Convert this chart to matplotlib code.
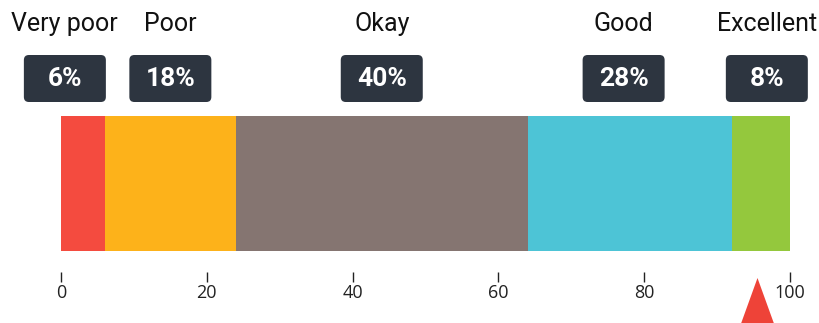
import matplotlib.pyplot as plt
from matplotlib.patches import FancyBboxPatch
import numpy as np

categories = ["Very poor", "Poor", "Okay", "Good", "Excellent"]
shares = [6, 18, 40, 28, 8]
colors = ["#f44b3f", "#fdb21a", "#857571", "#4dc4d6", "#94c83d"]
tick_values = [0, 20, 40, 60, 80, 100]
marker_value = 95.5

BOX_FACE = "#2d3540"
DPI = 100
# horizontal nudges (pixels) so neighbouring labels don't collide
label_shift = [-18, 0, 0, -6, 6]

fig = plt.figure(figsize=(8.2, 3.23), dpi=DPI)
ax = fig.add_axes([61 / 820, 72 / 323, 729 / 820, 135 / 323])

starts = np.concatenate([[0], np.cumsum(shares)[:-1]])
ax.barh(0.5, shares, left=starts, height=1.0, color=colors, linewidth=0)

ax.set_xlim(0, 100)
ax.set_ylim(0, 1)
ax.set_yticks([])
for side in ["top", "left", "right"]:
    ax.spines[side].set_visible(False)
ax.spines["bottom"].set_position(("outward", 15))
ax.spines["bottom"].set_visible(False)
ax.set_xticks(tick_values)
ax.tick_params(axis="x", length=7.5, width=1.0, color="#222222", pad=1,
               labelsize=13, labelcolor="#222222")
for lab in ax.get_xticklabels():
    lab.set_family("Open Sans")

# marker triangle under the bar
tri = [(-17, -23.5), (17, -23.5), (0, 23.5)]
ax.plot([marker_value], [-(49.5 / 135)], marker=tri, markersize=47 * 72 / DPI,
        color="#ee4338", markeredgewidth=0, transform=ax.get_xaxis_transform(),
        clip_on=False)

# category labels and percentage boxes above each segment
fig.canvas.draw()
inch = fig.dpi_scale_trans
box_w, box_h = 0.82, 0.47
for name, start, share, shift in zip(categories, starts, shares, label_shift):
    centre = start + share / 2
    px = ax.transData.transform((centre, 0))[0] + shift
    x_in = px / DPI
    fig.text(x_in, (323 - 24) / DPI, name, transform=inch, ha="center", va="center",
             fontsize=18, family="Roboto", color="#111111")
    box = FancyBboxPatch((x_in - box_w / 2, (323 - 102) / DPI), box_w, box_h,
                         boxstyle="round,pad=0,rounding_size=0.05",
                         facecolor=BOX_FACE, edgecolor="none", transform=inch)
    fig.patches.append(box)
    fig.text(x_in, (323 - 79.5) / DPI, f"{share}%", transform=inch, ha="center",
             va="center", fontsize=19, family="Roboto", weight="bold", color="white")

fig.savefig("out.png", dpi=DPI)
